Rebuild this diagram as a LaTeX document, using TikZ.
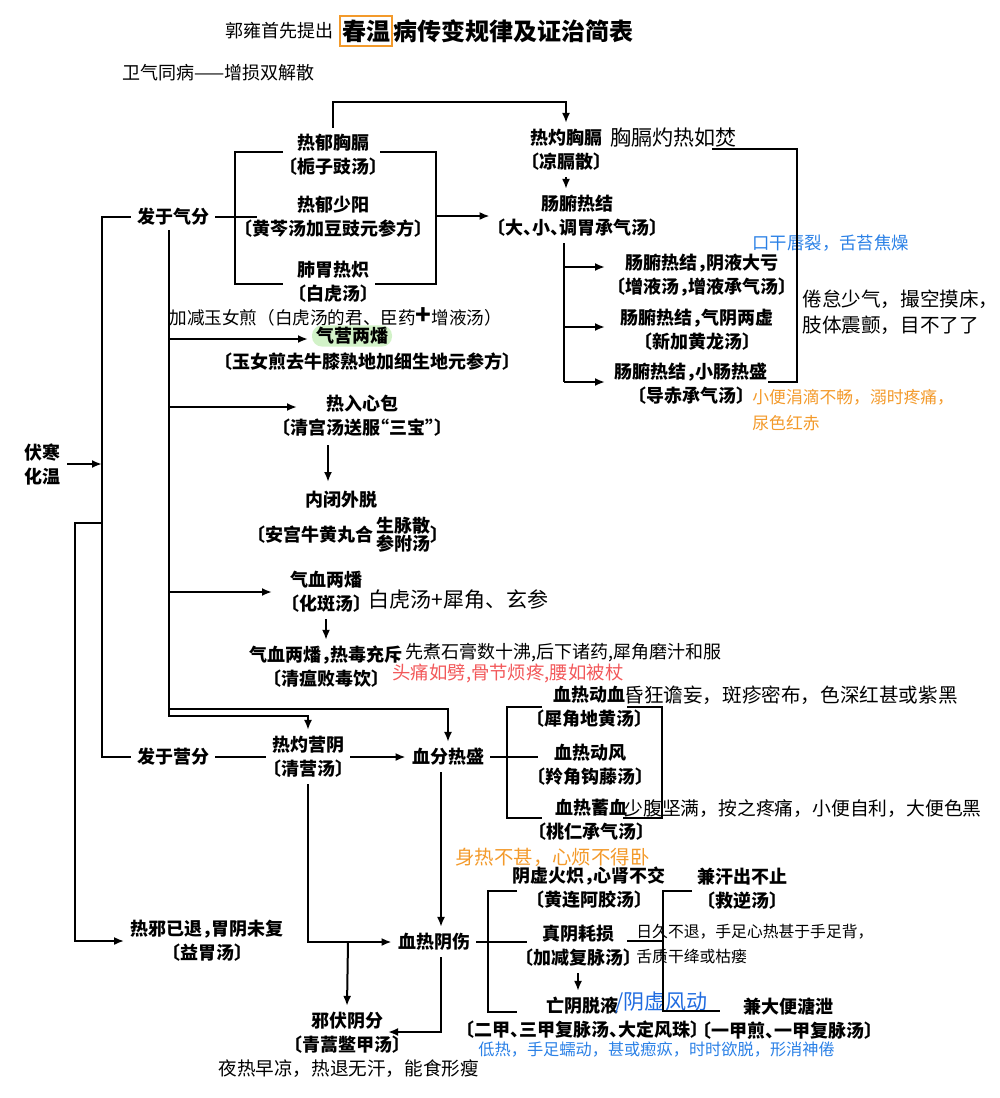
\documentclass[tikz,border=0pt]{standalone}
\usepackage{fontspec}
\setmainfont{Noto Sans CJK SC}
\newfontfamily\scanfont[RawFeature=+halt]{Noto Sans CJK SC}
\usetikzlibrary{arrows.meta}
\definecolor{notblue}{HTML}{2A80E6}
\definecolor{notorange}{HTML}{F39A2B}
\definecolor{notred}{HTML}{F2585A}
\definecolor{markgreen}{HTML}{D2F2C8}
\definecolor{penblue}{HTML}{1F6BE0}
\tikzset{
  scan/.style={font=\scanfont\bfseries\fontsize{9}{12}\selectfont, align=center, inner sep=3pt},
  note/.style={font=\fontsize{#1}{12.8}\selectfont, anchor=west, inner sep=0pt, align=left},
  note/.default=9,
  pen/.style={font=\fontsize{10.5}{12}\selectfont, anchor=west, inner sep=0pt},
  link/.style={line width=1pt},
  arr/.style={link, -{Latex[length=5pt,width=4pt]}}
}
\begin{document}
\begin{tikzpicture}[x=0.5pt,y=-0.5pt]
    \useasboundingbox (0,0) rectangle (1000,1098);
    % title
    \node[font=\fontsize{9}{10}\selectfont, anchor=east, inner sep=0pt] (pre) at (334,31) {郭雍首先提出};
    \node[draw=notorange, line width=1pt, font=\bfseries\fontsize{12}{14}\selectfont, inner xsep=1pt, inner ysep=2pt, anchor=west] (spring) at (339,31) {春温};
    \node[font=\bfseries\fontsize{12}{14}\selectfont, anchor=west, inner sep=0pt] (title) at (spring.east) {病传变规律及证治简表};
    \node[note] (wq) at (122,73) {卫气同病——增损双解散};
    % 气分
    \node[scan] (qi) at (173,217) {发于气分};
    \node[scan] (a1) at (333,155) {热郁胸膈\\〔栀子豉汤〕};
    \node[scan] (a2) at (333,217) {热郁少阳\\〔黄芩汤加豆豉元参方〕};
    \node[scan] (a3) at (333,282) {肺胃热炽\\〔白虎汤〕};
    \node[scan] (b1) at (566,150) {热灼胸膈\\〔凉膈散〕};
    \node[pen] (b1p) at (610,138) {胸膈灼热如焚};
    \node[scan] (b2) at (577,216) {肠腑热结\\〔大、小、调胃承气汤〕};
    \node[scan] (c1) at (702,275) {肠腑热结，阴液大亏\\〔增液汤，增液承气汤〕};
    \node[scan] (c2) at (697,330) {肠腑热结，气阴两虚\\〔新加黄龙汤〕};
    \node[scan] (c3) at (691,384) {肠腑热结，小肠热盛\\〔导赤承气汤〕};
    \node[note=8.7, text=notblue] (c1n) at (752,243) {口干唇裂，舌苔焦燥};
    \node[note=9.8] (c2n) at (802,312) {倦怠少气，撮空摸床，\\肢体震颤，目不了了};
    \node[note=8.4, text=notorange] (c3n) at (752,410) {小便涓滴不畅，溺时疼痛，\\尿色红赤};
    \draw[link] (qi.east) -- (257,217);
    \draw[link] (283,152) -| (235,284) -- (283,284);
    \draw[link] (380,152) -| (436,284) -- (375,284);
    \draw[arr] (436,216) -- (b2.west);
    \draw[arr] (a1.north) -- ++(0,-26) -| (b1.north);
    \draw[arr] (b1.south) -- (b1.south |- b2.north);
    \draw[link] (564,243) -- (564,382);
    \foreach \y in {267,327,382}{
        \draw[arr] (564,\y) -- (605,\y);
    }
    \draw[link] (712,149) -| (797,382) -- (768,382);
    % 气分 -> 营血
    \node[note=8.8] (yn) at (169,317) {加减玉女煎（白虎汤的君、臣药{\bfseries\fontsize{13}{13}\selectfont +}增液汤）};
    \node[scan, fill=markgreen, rounded corners=5pt, inner xsep=2pt, inner ysep=1pt] (qy) at (352,336) {气营两燔};
    \node[scan] (qyf) at (367,362) {〔玉女煎去牛膝熟地加细生地元参方〕};
    \node[scan] (xb) at (362,416) {热入心包\\〔清宫汤送服“三宝”〕};
    \node[scan] (nb) at (341,500) {内闭外脱};
    \node[scan] (nbf) at (348,537) {〔安宫牛黄丸合\,\begin{tabular}{@{}c@{}}生脉散\\[-3pt]参附汤\end{tabular}〕};
    \node[scan] (qx1) at (326,592) {气血两燔\\〔化斑汤〕};
    \node[pen] (qx1p) at (368,600) {白虎汤+犀角、玄参};
    \node[scan] (qx2) at (326,667) {气血两燔，热毒充斥\\〔清瘟败毒饮〕};
    \node[note=9] (qx2n) at (405,653) {先煮石膏数十沸,后下诸药,犀角磨汁和服};
    \node[note=9.2, text=notred] (qx2r) at (392,673) {头痛如劈,骨节烦疼,腰如被杖};
    \foreach \y/\x in {339/308, 407/297, 592/272}{
        \draw[arr] (169,\y) -- (\x,\y);
    }
    \draw[arr] (328,445) -- (328,482);
    \draw[arr] (qx1.south) -- (qx2.north);
    % 营分 血分
    \node[scan] (fh) at (43,464) {伏寒\\化温};
    \node[scan] (yf) at (173,757) {发于营分};
    \node[scan] (ry) at (308,757) {热灼营阴\\〔清营汤〕};
    \node[scan] (xr) at (448,757) {血分热盛};
    \node[scan] (d1) at (589,707) {血热动血\\〔犀角地黄汤〕};
    \node[scan] (d2) at (590,765) {血热动风\\〔羚角钩藤汤〕};
    \node[scan] (d3) at (591,820) {血热蓄血\\〔桃仁承气汤〕};
    \node[note=9.8] (d1n) at (624,695) {昏狂谵妄，斑疹密布，色深红甚或紫黑};
    \node[note=9.4] (d3n) at (624,809) {少腹坚满，按之疼痛，小便自利，大便色黑};
    \draw[arr] (169,230) |- ([yshift=7pt]ry.north) -- (ry.north);
    \draw[arr] (169,709) -| (xr.north);
    \draw[link] (qi.west) -| (102,757) -- (yf.west);
    \draw[arr] (fh.east) -- (102,464);
    \draw[link] (yf.east) -- (ry.west);
    \draw[arr] (ry.east) -- (xr.west);
    \draw[link] (xr.east) -- (538,757);
    \draw[link] (542,707) -| (507,818) -- (542,818);
    \draw[link] (627,707) -| (662,818) -- (623,818);
    % 阴伤
    \node[scan] (wy) at (207,941) {热邪已退，胃阴未复\\〔益胃汤〕};
    \node[scan] (ys) at (434,942) {血热阴伤};
    \node[scan] (xf) at (347,1033) {邪伏阴分\\〔青蒿鳖甲汤〕};
    \node[note=9.3] (xfn) at (218,1069) {夜热早凉，热退无汗，能食形瘦};
    \node[note=9.7, text=notorange] (e1n) at (455,857) {身热不甚，心烦不得卧};
    \node[scan] (e1) at (589,888) {阴虚火炽，心肾不交\\〔黄连阿胶汤〕};
    \node[scan] (e2) at (578,946) {真阴耗损\\〔加减复脉汤〕};
    \node[scan] (e3) at (582,1018) {亡阴脱液\\〔二甲、三甲复脉汤、大定风珠〕};
    \node[pen, text=penblue] (e3p) at (615,1003) {/阴虚风动};
    \node[scan] (f1) at (742,889) {兼汗出不止\\〔救逆汤〕};
    \node[scan] (f2) at (788,1019) {兼大便溏泄\\〔一甲煎、一甲复脉汤〕};
    \node[note=7.9] (e2n) at (636,944) {日久不退，手足心热甚于手足背，\\舌质干绛或枯瘘};
    \node[note=8.1, text=notblue] (e3n) at (478,1050) {低热，手足蠕动，甚或瘛疭，时时欲脱，形消神倦};
    \draw[arr] (102,523) -| (75,941) -- (wy.west);
    \draw[arr] (ry.south) |- (ys.west);
    \draw[arr] (348,942) -- (xf.north);
    \draw[arr] ([xshift=-3.5pt]xr.south) -- ([xshift=3.5pt]ys.north);
    \draw[arr] ([xshift=3.5pt]ys.south) |- (388,1032);
    \draw[link] (ys.east) -- (527,942);
    \draw[link] (517,891) -| (488,1012) -- (517,1012);
    \draw[arr] (e2.south) -- (e2.south |- e3.north);
    \draw[link] (627,941) -- (663,941);
    \draw[link] (692,891) -| (663,1011) -- (720,1011);
\end{tikzpicture}
\end{document}
